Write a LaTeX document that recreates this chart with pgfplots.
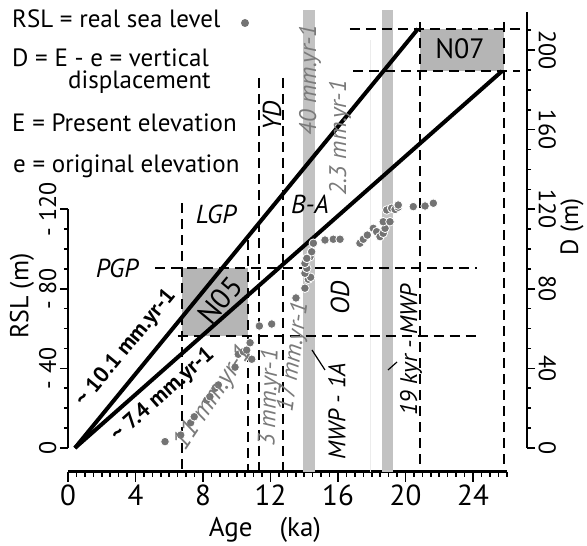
\documentclass[border=0pt]{standalone}
\usepackage{fontspec}
\setmainfont{PT Sans}
\usepackage{pgfplots}
\pgfplotsset{compat=1.18}
\definecolor{band}{HTML}{C2C2C2}
\definecolor{boxg}{HTML}{B5B5B5}
\definecolor{ptg}{HTML}{737373}
\definecolor{rate}{HTML}{7A7A7A}
\newcommand{\fs}[1]{\fontsize{#1}{#1}\selectfont}

\begin{document}
\begin{tikzpicture}
\useasboundingbox (0,0) rectangle (587pt,546pt);

% left axis: RSL
\begin{axis}[at={(68pt,98pt)}, anchor=south west, scale only axis,
  width=50pt, height=238.8pt, xmin=0, xmax=1, ymin=-120, ymax=0, y dir=reverse,
  axis x line=none, axis y line=left, axis line style={-, line width=2.2pt},
  xtick=\empty,
  ytick={-120,-80,-40,0}, yticklabels={- 120,- 80,- 40,0},
  minor ytick={-110,-100,...,-10}, tick align=outside,
  major tick length=8pt, minor tick length=4pt, tick style={line width=1.6pt, black},
  yticklabel style={rotate=90, anchor=south, font=\fs{24}},
]
\end{axis}

% right axis: D
\begin{axis}[at={(68pt,98pt)}, anchor=south west, scale only axis,
  width=459pt, height=435.8pt, xmin=0, xmax=1, ymin=0, ymax=219,
  axis x line=none, axis y line=right, axis line style={-, line width=2.2pt},
  xtick=\empty,
  ytick={0,40,...,200}, yticklabels={0,40,80,120,160,200},
  minor ytick={10,20,...,210}, tick align=outside,
  major tick length=8pt, minor tick length=4pt, tick style={line width=1.6pt, black},
  yticklabel style={rotate=-90, anchor=south, font=\fs{24}},
]
\end{axis}

% main axis: age
\begin{axis}[at={(68pt,74pt)}, anchor=south west, scale only axis,
  width=438.75pt, height=462pt, xmin=0, xmax=26, ymin=-12.06, ymax=220.1,
  axis x line=bottom, axis y line=none, axis line style={-, line width=3pt},
  clip=false, ytick=\empty,
  xtick={0,4,...,24}, xticklabels={0,4,8,12,16,20,24},
  minor xtick={0,0.5,...,26}, tick align=outside,
  major tick length=10pt, minor tick length=5pt, tick style={line width=1.6pt, black},
  xticklabel style={font=\fs{29}, anchor=north, yshift=1pt},
]
% grey bands
\addplot[fill=band, draw=none] coordinates {(13.93,-12.06) (14.64,-12.06) (14.64,220.1) (13.93,220.1)} -- cycle;
\addplot[fill=band, draw=none] coordinates {(18.61,-12.06) (19.26,-12.06) (19.26,220.1) (18.61,220.1)} -- cycle;
% N05 and N07 boxes
\addplot[fill=boxg, draw=none] coordinates {(6.76,56.3) (10.67,56.3) (10.67,90.5) (6.76,90.5)} -- cycle;
\addplot[fill=boxg, draw=none] coordinates {(20.86,189.4) (25.84,189.4) (25.84,210.6) (20.86,210.6)} -- cycle;
\draw[gray!15, line width=0.8pt] (axis cs:17.9,205) -- (axis cs:17.9,-12.06);
% dashed lines
\begin{scope}[black, line width=2.2pt, dash pattern=on 10pt off 6pt]
\draw (axis cs:6.76,123) -- (axis cs:6.76,-12.06);
\draw (axis cs:10.67,104.5) -- (axis cs:10.67,-12.06);
\draw (axis cs:11.32,186) -- (axis cs:11.32,-12.06);
\draw (axis cs:12.74,186) -- (axis cs:12.74,-12.06);
\draw (axis cs:20.86,214) -- (axis cs:20.86,-12.06);
\draw (axis cs:25.84,214) -- (axis cs:25.84,-12.06);
\draw (axis cs:5.16,90.5) -- (axis cs:24.24,90.5);
\draw (axis cs:6.5,56.3) -- (axis cs:24.24,56.3);
\draw (axis cs:16.7,210.6) -- (axis cs:26.8,210.6);
\draw (axis cs:16.9,189.4) -- (axis cs:26.8,189.4);
\end{scope}
% displacement-rate lines
\addplot[black, line width=4pt] coordinates {(0.41,0) (20.74,210.6)};
\addplot[black, line width=4pt] coordinates {(0.41,0) (25.72,189.4)};
% RSL data
\addplot[only marks, mark=*, mark size=4.3pt, mark options={fill=ptg, draw=white, line width=0.8pt}] coordinates {
(5.75,3.2) (6.68,6.5) (7.27,12.7) (7.48,15.7) (8.22,24.1) (8.41,25.8)
(8.71,30.0) (8.91,31.7) (9.90,40.6) (10.09,47.1) (10.39,48.4) (10.59,49.2)
(10.89,44.6) (10.79,52.9) (11.34,61.3) (12.07,62.3) (13.51,75.4) (14.04,80.3)
(14.24,84.8) (14.38,85.8) (14.04,87.8) (14.15,90.3) (14.04,92.8) (14.34,96.1)
(14.44,98.6) (14.15,95.3) (14.54,102.9) (15.23,104.5) (15.72,104.9) (16.12,104.9)
(17.30,102.9) (17.50,104.9) (17.74,107.0) (18.09,110.4) (18.29,108.7) (18.49,106.2)
(18.68,107.9) (18.79,110.4) (18.68,113.7) (19.08,113.7) (18.89,119.6) (19.18,120.5)
(19.38,119.9) (19.57,121.0) (19.57,122.1) (20.46,121.3) (21.16,121.6) (21.65,123.0)
};
\end{axis}

% text, in image pixel coordinates
\begin{scope}[x=1pt, y=-1pt, yshift=546pt]
\node[anchor=base west, inner sep=0pt, font=\fs{25}] at (12,28) {RSL = real sea level};
\fill[ptg] (245,23) circle (4pt);
\node[anchor=base west, inner sep=0pt, font=\fs{25}] at (12,67) {D = E - e = vertical};
\node[anchor=base west, inner sep=0pt, font=\fs{25}] at (68,89) {displacement};
\node[anchor=base west, inner sep=0pt, font=\fs{25}] at (12,132) {E = Present elevation};
\node[anchor=base west, inner sep=0pt, font=\fs{25}] at (13,173) {e = original elevation};

\node[rotate=90, inner sep=0pt, font=\fs{26}] at (22,296) {RSL (m)};
\node[rotate=90, inner sep=0pt, font=\fs{25}] at (572,227) {D (m)};
\node[font=\fs{27}] at (265,530) {Age\quad(ka)};

\node[font=\fs{26}\itshape] at (117,268) {PGP};
\node[font=\fs{26}\itshape] at (216,214) {LGP};
\node[rotate=90, font=\fs{26}\itshape] at (272,116) {YD};
\node[font=\fs{26}\itshape] at (310,204) {B-A};
\node[rotate=90, font=\fs{26}\itshape] at (340,298) {OD};
\node[rotate=90, font=\fs{24}\itshape] at (337,411) {MWP - 1A};
\node[rotate=90, font=\fs{24}\itshape] at (411,350) {19 kyr - MWP};
\draw[line width=1.2pt] (312,350) -- (325,370);
\draw[line width=1.2pt] (388,370) -- (397,362);

\node[rotate=50, font=\fs{29}] at (220,300) {N05};
\node[font=\fs{28}] at (460,49) {N07};

\node[rotate=90, text=rate, font=\fs{24}\itshape] at (310,80) {40 mm.yr-1};
\node[rotate=90, text=rate, font=\fs{24}\itshape] at (340,138) {2.3 mm.yr-1};
\node[rotate=56, text=rate, font=\fs{26}\itshape] at (213,398) {11 mm.yr-1};
\node[rotate=88, text=rate, font=\fs{24}\itshape] at (270,398) {3 mm.yr-1};
\node[rotate=82, text=rate, font=\fs{24}\itshape] at (294,357) {17 mm.yr-1};

\node[rotate=50.5, font=\fs{22}\bfseries] at (126,348) {\textasciitilde\ 10.1 mm.yr-1};
\node[rotate=41.5, font=\fs{22}\bfseries] at (163,395) {\textasciitilde\ 7.4 mm.yr-1};
\end{scope}
\end{tikzpicture}
\end{document}
